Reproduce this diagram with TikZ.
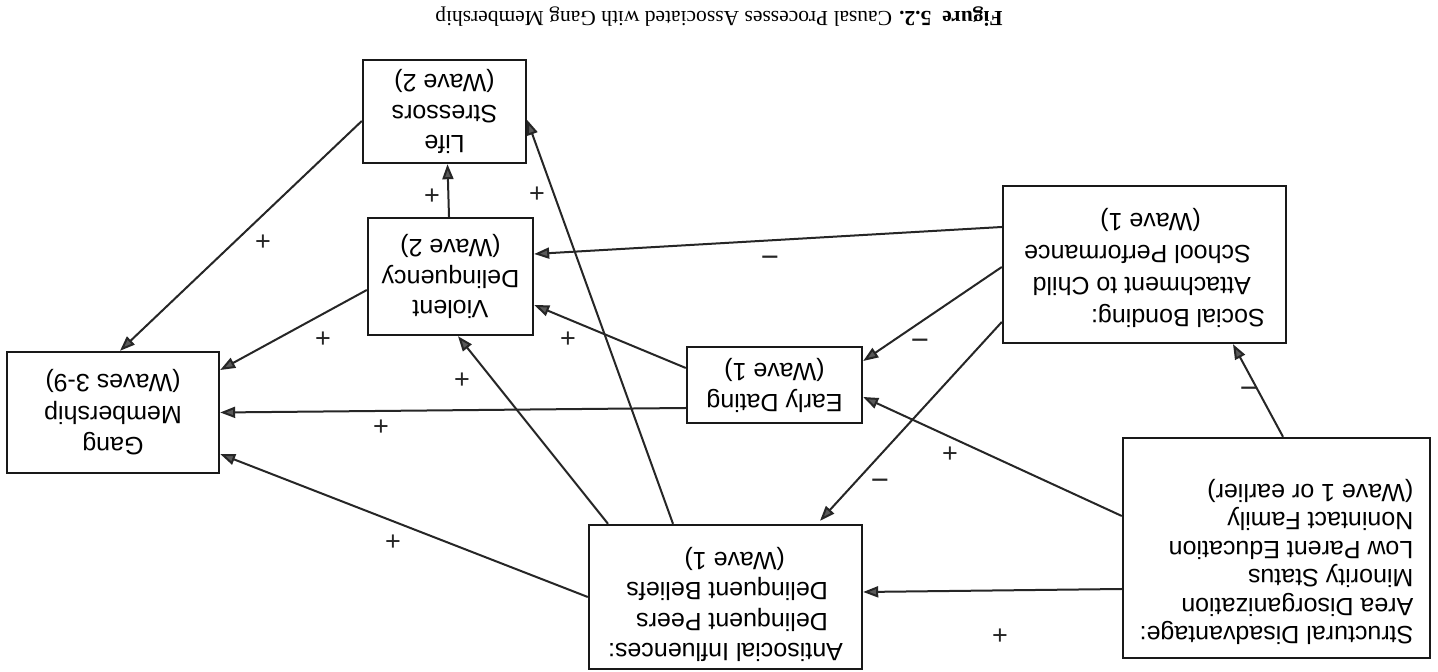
\documentclass[tikz,border=0pt]{standalone}
\usepackage{fontspec}
\setsansfont{Liberation Sans}
\newfontfamily\capfont{Liberation Serif}
\usepackage{graphicx}
\usetikzlibrary{arrows.meta,calc}
\newcommand{\flipc}[1]{\rotatebox[origin=c]{180}{\begin{tabular}{@{}c@{}}#1\end{tabular}}}
\newcommand{\flipl}[1]{\rotatebox[origin=c]{180}{\begin{tabular}{@{}l@{}}#1\end{tabular}}}
\begin{document}
\begin{tikzpicture}[x=1pt,y=1pt,
  box/.style={draw=black!90, line width=2.4pt, rectangle, inner sep=0pt,
    font=\sffamily\fontsize{25}{30.5}\selectfont},
  conn/.style={draw=black!85, line width=2pt,
    -{Triangle[length=15pt,width=11pt,fill=black!65]}},
  sign/.style={font=\sffamily\fontsize{27}{27}\selectfont, text=black!85, inner sep=0pt},
  minus/.style={font=\sffamily\fontsize{31}{31}\selectfont, text=black!85, inner sep=0pt}]
\useasboundingbox (0,0) rectangle (1438,672);
\fill[white] (0,0) rectangle (1438,672);

% caption
\node[rotate=180, font=\capfont\fontsize{21.5}{21.5}\selectfont, inner sep=0pt] (cap) at (719,655)
  {\textbf{Figure\ \ 5.2.} Causal Processes Associated with Gang Membership};

% boxes
\node[box, minimum width=212pt, minimum height=121pt,
  font=\sffamily\fontsize{25}{31.5}\selectfont] (gang) at (113,259.5)
  {\flipc{Gang\\Membership\\(Waves 3-9)}};
\node[box, minimum width=273pt, minimum height=144pt] (anti) at (725.5,75)
  {\raisebox{-7pt}[\height][\depth]{\flipl{Antisocial Influences:\\\hspace*{15pt}Delinquent Peers\\\hspace*{15pt}Delinquent Beliefs\\\hspace*{58pt}(Wave 1)}}};
\node[box, minimum width=307pt, minimum height=220pt,
  font=\sffamily\fontsize{25}{28.5}\selectfont] (struct) at (1276.5,124)
  {\raisebox{-13pt}[\height][\depth]{\flipl{Structural Disadvantage:\\Area Disorganization\\Minority Status\\Low Parent Education\\Nonintact Family\\(Wave 1 or earlier)}}};
\node[box, minimum width=283pt, minimum height=157pt,
  font=\sffamily\fontsize{25}{32}\selectfont] (social) at (1144.5,407.5)
  {\raisebox{-3pt}[\height][\depth]{\flipl{Social Bonding:\\\hspace*{14pt}Attachment to Child\\\hspace*{14pt}School Performance\\\hspace*{64pt}(Wave 1)}}};
\node[box, minimum width=175pt, minimum height=76pt] (early) at (774.5,287)
  {\flipc{Early Dating\\(Wave 1)}};
\node[box, minimum width=165pt, minimum height=117pt] (violent) at (450.5,395.5)
  {\flipc{Violent\\Delinquency\\(Wave 2)}};
\node[box, minimum width=163pt, minimum height=103pt] (life) at (444.5,560.5)
  {\flipc{Life\\Stressors\\(Wave 2)}};

% connectors
\draw[conn] ([yshift=-41]struct.west) -- ([yshift=5]anti.east);
\draw[conn] ([xshift=6.5]struct.north) -- ([xshift=88.5]social.south);
\draw[conn] ([yshift=32]struct.west) -- ([yshift=-12]early.east);
\draw[conn] ([yshift=-2.5]social.west) -- ([yshift=24]early.east);
\draw[conn] ([yshift=-57.5]social.west) -- ([xshift=94.5,yshift=3]anti.north);
\draw[conn] ([yshift=37.5]social.west) -- ([yshift=22.5]violent.east);
\draw[conn] ([yshift=-23]early.west) -- (gang.east);
\draw[conn] ([yshift=17]early.west) -- ([yshift=-28.5]violent.east);
\draw[conn] (anti.west) -- ([yshift=-41.5]gang.east);
\draw[conn] ([xshift=-117.5]anti.north) -- ([xshift=7.5]violent.south);
\draw[conn] ([xshift=-52.5]anti.north) -- ([yshift=-8.5]life.east);
\draw[conn] ([xshift=-1.5]violent.north) -- ([xshift=3]life.south);
\draw[conn] ([yshift=-13.5]violent.west) -- ([yshift=42.5]gang.east);
\draw[conn] ([yshift=-9.5]life.west) -- ([xshift=7]gang.north);

% signs
\node[sign] (s1) at (1000,35) {+};
\node[minus] (s2) at (1249,279) {−};
\node[sign] (s3) at (950,217) {+};
\node[minus] (s4) at (920,327) {−};
\node[minus] (s5) at (880,187) {−};
\node[minus] (s6) at (770,410) {−};
\node[sign] (s7) at (381,244) {+};
\node[sign] (s8) at (568,332) {+};
\node[sign] (s9) at (393,129) {+};
\node[sign] (s10) at (462,291) {+};
\node[sign] (s11) at (537,477) {+};
\node[sign] (s12) at (432,475) {+};
\node[sign] (s13) at (323,332) {+};
\node[sign] (s14) at (263,429) {+};
\end{tikzpicture}
\end{document}
